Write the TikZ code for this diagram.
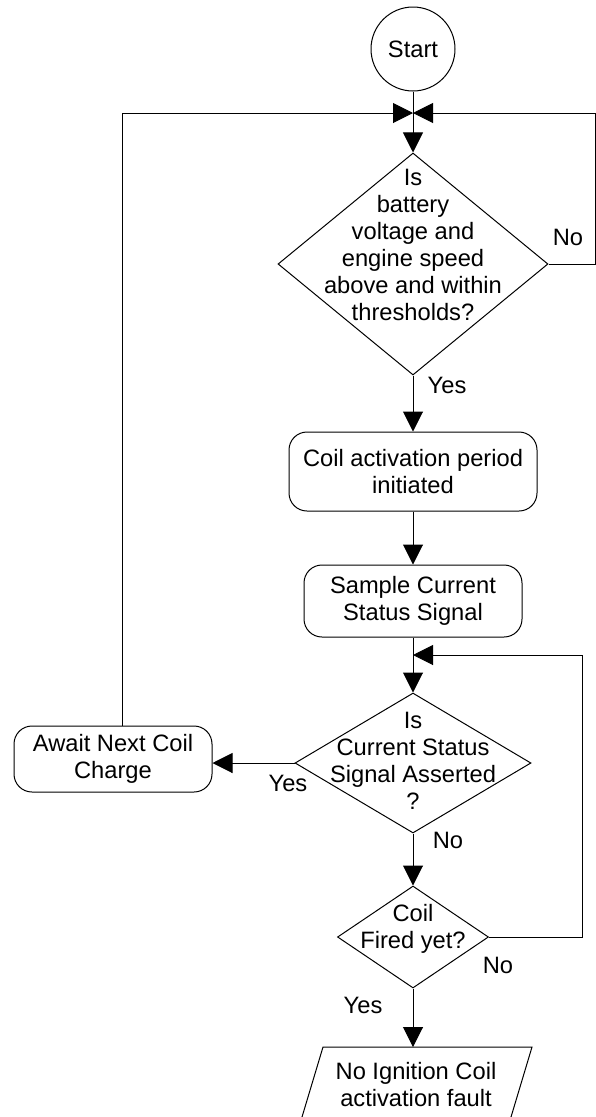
\documentclass[tikz,border=0pt]{standalone}
\usepackage{fontspec}
\setmainfont{Liberation Sans}
\usetikzlibrary{shapes.geometric,arrows.meta}
\begin{document}
\begin{tikzpicture}[x=1pt,y=-1pt,
  every node/.style={font=\fontsize{23.7}{27}\selectfont, inner sep=0pt},
  line/.style={line width=1pt, draw=black},
  arrow/.style={line, -{Triangle[length=20pt,width=20pt]}},
  decision/.style={diamond, draw, line width=1pt, inner sep=0pt},
  process/.style={rectangle, rounded corners=18pt, draw, line width=1pt, align=center},
  txt/.style={align=center},
  lbl/.style={anchor=center}
]
\useasboundingbox (0,0) rectangle (596,1117);
\clip (0,0) rectangle (596,1117);
\fill[white] (0,0) rectangle (596,1117);

% main column
\node[circle, draw, line width=1pt, minimum size=84pt] (start) at (413,49) {Start};
\coordinate (join) at (413,113);
\node[decision, minimum width=270pt, minimum height=222pt] (d1) at (413,264) {};
\node[txt] (d1t) at (413,245) {Is\\battery\\voltage and\\engine speed\\above and within\\thresholds?};
\node[process, minimum width=248pt, minimum height=79pt] (p1) at (413,471.5) {Coil activation period\\initiated};
\node[process, minimum width=218pt, minimum height=72pt] (p2) at (413,601) {Sample Current\\Status Signal};
\coordinate (loopin) at (413,655);
\node[decision, minimum width=236pt, minimum height=140pt] (d2) at (413,763) {};
\node[txt] (d2t) at (413,761) {Is\\Current Status\\Signal Asserted\\?};
\node[process, minimum width=198pt, minimum height=66pt] (await) at (113,759) {Await Next Coil\\Charge};
\node[decision, minimum width=151pt, minimum height=102pt] (d3) at (413,937) {};
\node[txt] (d3t) at (413,929) {Coil\\Fired yet?};

% output parallelogram
\coordinate (outtop) at (413,1047);
\draw[line] (323,1047) -- (532,1047) -- (505,1137) -- (296,1137) -- cycle;
\node[txt] (out) at (416,1085) {No Ignition Coil\\activation fault};

% connectors
\draw[line] (start) -- (join);
\draw[arrow] (join) -- (d1);
\draw[arrow] ([xshift=9pt]await.north) |- (join);
\draw[arrow] (d1.east) -- ++(47,0) |- (join);
\draw[arrow] (d1) -- (p1);
\draw[arrow] (p1) -- (p2);
\draw[arrow] (p2) -- (d2);
\draw[arrow] (d2.west) -- (d2.west -| await.east);
\draw[arrow] (d2) -- (d3);
\draw[arrow] (d3.east) -- ++(93,0) |- (loopin);
\draw[arrow] (d3) -- (outtop);

% branch labels
\node[lbl] (l1) at (568,237) {No};
\node[lbl] (l2) at (447,385) {Yes};
\node[lbl] (l3) at (288,783) {Yes};
\node[lbl] (l4) at (448,840) {No};
\node[lbl] (l5) at (498,965) {No};
\node[lbl] (l6) at (363,1005) {Yes};
\end{tikzpicture}
\end{document}
